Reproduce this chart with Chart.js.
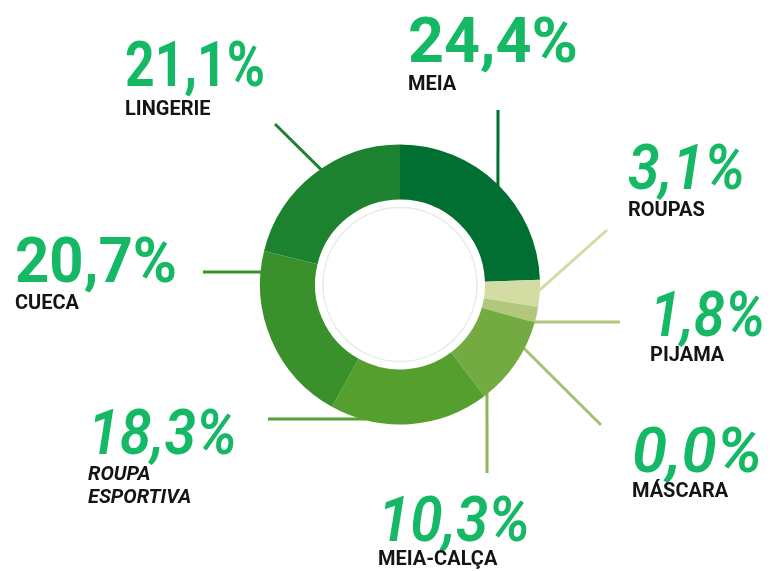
<!DOCTYPE html>
<html>
<head>
<meta charset="utf-8">
<script src="https://cdn.jsdelivr.net/npm/chart.js@4.4.0/dist/chart.umd.min.js"></script>
<style>
  html, body { margin: 0; padding: 0; background: #fff; }
</style>
</head>
<body>
<canvas id="chart" width="772" height="571"></canvas>
<script>
const categories = ['MEIA', 'ROUPAS', 'PIJAMA', 'MÁSCARA', 'MEIA-CALÇA', 'ROUPA ESPORTIVA', 'CUECA', 'LINGERIE']
const shares = [24.4, 3.1, 1.8, 0.0, 10.3, 18.3, 20.7, 21.1]
const sliceColors = ['#006f31', '#d3dca2', '#b1c87c', '#9dbf69', '#73aa42', '#559f2f', '#3a912b', '#1d822f']

// where each callout sits: x/y = left edge + baseline of the percentage, w = its width,
// edge = angle (deg, clockwise from top) where the leader line meets the ring
const labelLayout = [
  { x: 408, y: 62, w: 170, italic: false, nameY: 90, edge: 44.4, end: [498, 110], line: '#006f31' },
  { x: 628, y: 189, w: 117, italic: true, nameY: 216, edge: 92.2, end: [607, 230], line: '#d3dca2' },
  { x: 650, y: 336, w: 115, italic: true, nameY: 361, edge: 105.5, end: [620, 322], line: '#b1c87c' },
  { x: 632, y: 472, w: 130, italic: true, nameY: 497, edge: 117.3, end: [601, 425], line: '#a2c271' },
  { x: 378, y: 541, w: 152, italic: true, nameY: 565, edge: 141.6, end: [487, 473], line: '#8db659' },
  { x: 88, y: 454, w: 149, italic: true, nameItalic: true, nameY: 480, wrap: true, edge: 196.2, end: [268, 419], line: '#55a030' },
  { x: 15, y: 282, w: 162, italic: false, nameY: 309, edge: 275.1, end: [203, 272], line: '#3a912b' },
  { x: 125, y: 86, w: 140, italic: false, nameY: 115, edge: 325.5, end: [275, 124], line: '#1d822f' }
]

const pctText = v => v.toFixed(1).replace('.', ',') + '%'

function fitText(ctx, text, x, y, w) {
  const sx = w ? w / ctx.measureText(text).width : 1
  ctx.save()
  ctx.translate(x, y)
  ctx.scale(sx, 1)
  ctx.fillText(text, 0, 0)
  ctx.restore()
}

const callouts = {
  id: 'callouts',
  beforeDatasetsDraw(chart) {
    const { x, y, outerRadius } = chart.getDatasetMeta(0).data[0]
    const ctx = chart.ctx
    ctx.save()
    ctx.lineWidth = 3
    labelLayout.forEach(l => {
      const a = l.edge * Math.PI / 180
      const px = x + outerRadius * Math.sin(a)
      const py = y - outerRadius * Math.cos(a)
      const len = Math.hypot(px - l.end[0], py - l.end[1])
      const ux = (px - l.end[0]) / len
      const uy = (py - l.end[1]) / len
      ctx.strokeStyle = l.line
      ctx.beginPath()
      ctx.moveTo(l.end[0], l.end[1])
      ctx.lineTo(px + ux * 6, py + uy * 6)
      ctx.stroke()
    })
    ctx.restore()
  },
  afterDatasetsDraw(chart) {
    const { x, y, innerRadius } = chart.getDatasetMeta(0).data[0]
    const ctx = chart.ctx
    ctx.save()
    ctx.strokeStyle = '#e4ebe8'
    ctx.lineWidth = 1.5
    ctx.beginPath()
    ctx.arc(x, y, innerRadius - 8, 0, Math.PI * 2)
    ctx.stroke()
    ctx.restore()
  },
  afterDraw(chart) {
    const ctx = chart.ctx
    ctx.save()
    ctx.textBaseline = 'alphabetic'
    labelLayout.forEach((l, i) => {
      ctx.fillStyle = '#14b865'
      ctx.font = l.italic ? 'italic 600 63px Roboto' : 'bold 63px Roboto'
      fitText(ctx, pctText(shares[i]), l.x, l.y, l.w)

      ctx.fillStyle = '#141414'
      ctx.font = (l.nameItalic ? 'italic ' : '') + 'bold 20px Roboto'
      const lines = l.wrap ? categories[i].split(' ') : [categories[i]]
      lines.forEach((t, k) => ctx.fillText(t, l.x, l.nameY + k * 23))
    })
    ctx.restore()
  }
}

new Chart(document.getElementById('chart'), {
  type: 'doughnut',
  data: {
    labels: categories,
    datasets: [{
      data: shares,
      backgroundColor: sliceColors,
      borderWidth: 0
    }]
  },
  options: {
    responsive: false,
    animation: false,
    cutout: '60.7%',
    layout: { padding: { left: 260, right: 232, top: 144, bottom: 146 } },
    plugins: {
      legend: { display: false },
      tooltip: { enabled: false }
    }
  },
  plugins: [callouts]
})
</script>
</body>
</html>
